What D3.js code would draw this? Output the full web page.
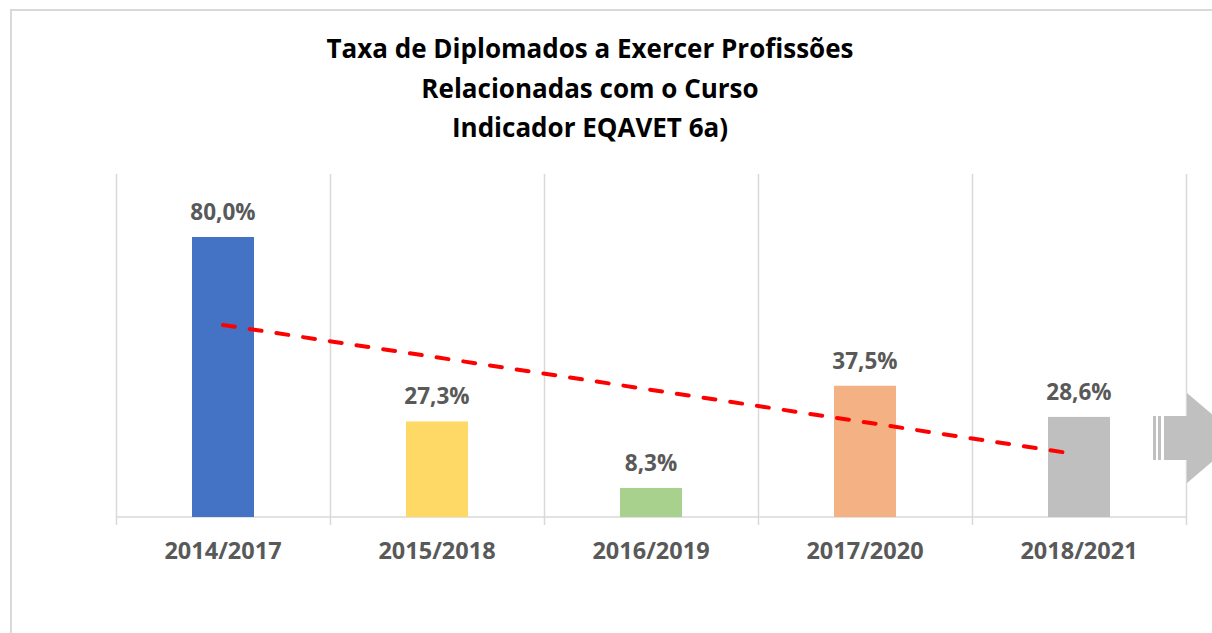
<!DOCTYPE html>
<meta charset="utf-8">
<head>
<title>Taxa de Diplomados a Exercer Profissões</title>
<style>
  body { margin: 0; background: #fff; }
  svg text { font-family: "Open Sans", Lato, sans-serif; font-weight: bold; }
</style>
</head>
<body>
<div id="chart"></div>
<script src="https://d3js.org/d3.v7.min.js"></script>
<script>

// data
var periods = ["2014/2017", "2015/2018", "2016/2019", "2017/2020", "2018/2021"];
var taxa = [80.0, 27.3, 8.3, 37.5, 28.6];
var cores = ["#4472c4", "#ffd966", "#a9d18e", "#f4b183", "#bfbfbf"];
var titulo = ["Taxa de Diplomados a Exercer Profissões", "Relacionadas com o Curso", "Indicador EQAVET 6a)"];

var W = 1212, H = 633;
var plotL = 116, plotR = 1186, plotB = 517, plotT = 174;

var svg = d3.select("#chart")
  .append("svg")
    .attr("width", W)
    .attr("height", H);

// chart frame
svg.append("rect")
    .attr("x", 11).attr("y", 10)
    .attr("width", W + 10).attr("height", H + 10)
    .attr("fill", "#fff")
    .attr("stroke", "#d9d9d9")
    .attr("stroke-width", 2);

var x = d3.scaleBand()
    .domain(periods)
    .range([plotL, plotR])
    .paddingInner(0).paddingOuter(0);

var y = d3.scaleLinear()
    .domain([0, 98])
    .range([plotB, plotT]);

// vertical gridlines between categories
var edges = periods.map(function(p) { return x(p); }).concat([plotR]);
svg.selectAll(".grid")
  .data(edges)
  .enter().append("line")
    .attr("x1", function(d) { return d + 0.5; })
    .attr("x2", function(d) { return d + 0.5; })
    .attr("y1", plotT)
    .attr("y2", plotB + 8)
    .attr("stroke", "#d9d9d9")
    .attr("stroke-width", 1.5);

// axis line
svg.append("line")
    .attr("x1", plotL).attr("x2", plotR)
    .attr("y1", plotB).attr("y2", plotB)
    .attr("stroke", "#d9d9d9")
    .attr("stroke-width", 1.5);

var barW = 62;
svg.selectAll(".bar")
  .data(taxa)
  .enter().append("rect")
    .attr("x", function(d, i) { return x(periods[i]) + x.bandwidth() / 2 - barW / 2; })
    .attr("y", function(d) { return y(d); })
    .attr("width", barW)
    .attr("height", function(d) { return plotB - y(d); })
    .attr("fill", function(d, i) { return cores[i]; });

// value labels
svg.selectAll(".lbl")
  .data(taxa)
  .enter().append("text")
    .attr("x", function(d, i) { return x(periods[i]) + x.bandwidth() / 2; })
    .attr("y", function(d) { return y(d) - 17; })
    .attr("text-anchor", "middle")
    .style("font-size", "22.5px")
    .attr("fill", "#595959")
    .text(function(d) { return d.toFixed(1).replace(".", ",") + "%"; });

// category labels
svg.selectAll(".cat")
  .data(periods)
  .enter().append("text")
    .attr("x", function(d) { return x(d) + x.bandwidth() / 2; })
    .attr("y", 559)
    .attr("text-anchor", "middle")
    .style("font-size", "23.5px")
    .attr("fill", "#595959")
    .text(function(d) { return d; });

// linear trendline (least squares over the bars)
var n = taxa.length;
var mx = d3.mean(taxa, function(d, i) { return i; });
var my = d3.mean(taxa);
var sxy = d3.sum(taxa, function(d, i) { return (i - mx) * (d - my); });
var sxx = d3.sum(taxa, function(d, i) { return (i - mx) * (i - mx); });
var slope = sxy / sxx, icpt = my - slope * mx;

svg.append("line")
    .attr("x1", x(periods[0]) + x.bandwidth() / 2)
    .attr("y1", y(icpt))
    .attr("x2", x(periods[n - 1]) + x.bandwidth() / 2 - 10)
    .attr("y2", y(icpt + slope * (n - 1 - 10 / x.bandwidth())))
    .attr("stroke", "#ff0000")
    .attr("stroke-width", 4)
    .attr("stroke-linecap", "round")
    .attr("stroke-dasharray", "12,15");

// striped arrow at the right edge
var ar = svg.append("g").attr("fill", "#c0c0c0");
ar.append("rect").attr("x", 1153).attr("y", 416).attr("width", 3).attr("height", 44);
ar.append("rect").attr("x", 1158).attr("y", 416).attr("width", 3).attr("height", 44);
ar.append("path")
    .attr("d", "M1164,416 L1187,416 L1187,393 L1240,438 L1187,483 L1187,460 L1164,460 Z");

// title
svg.selectAll(".title")
  .data(titulo)
  .enter().append("text")
    .attr("x", 590)
    .attr("y", function(d, i) { return 58 + i * 39.5; })
    .attr("text-anchor", "middle")
    .style("font-size", "26px")
    .attr("fill", "#000")
    .text(function(d) { return d; });

</script>
</body>
